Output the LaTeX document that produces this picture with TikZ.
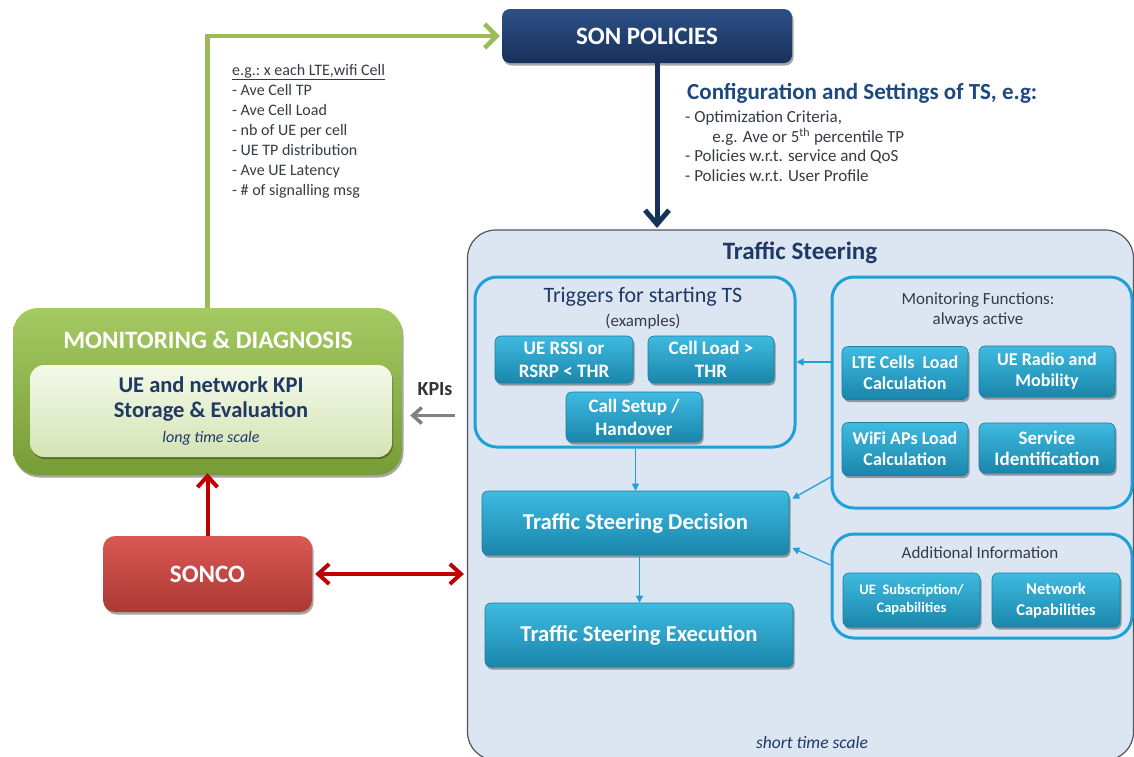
\documentclass[tikz,border=0pt]{standalone}
\usepackage{fontspec}
\setmainfont{Carlito}
\usetikzlibrary{arrows.meta,shadows,calc}

\definecolor{navytop}{HTML}{2D5086}
\definecolor{navybot}{HTML}{17325A}
\definecolor{navytext}{HTML}{1F3864}
\definecolor{cfgtitle}{HTML}{1F497D}
\definecolor{leaf}{HTML}{9BBB59}
\definecolor{leaftop}{HTML}{A6CA62}
\definecolor{leafbot}{HTML}{779C36}
\definecolor{minttop}{HTML}{F4F9EA}
\definecolor{mintbot}{HTML}{D4E4B4}
\definecolor{bricktop}{HTML}{DA5853}
\definecolor{brickbot}{HTML}{AC3834}
\definecolor{arrowred}{HTML}{C00000}
\definecolor{tealtop}{HTML}{3FBAE0}
\definecolor{tealbot}{HTML}{1A86AB}
\definecolor{tealedge}{HTML}{1B7DA0}
\definecolor{skyline}{HTML}{1FA0D8}
\definecolor{paleblue}{HTML}{DCE6F2}
\definecolor{frame}{HTML}{4F5560}
\definecolor{listgrey}{HTML}{353B45}
\definecolor{kpigrey}{HTML}{808080}

\tikzset{
  boxshadow/.style={drop shadow={shadow xshift=1.5pt, shadow yshift=-2.5pt, opacity=0.35, fill=black}},
  tealbox/.style={rounded corners=6pt, top color=tealtop, bottom color=tealbot,
    draw=tealedge, line width=0.6pt, boxshadow, text=white, align=center, inner sep=2pt,
    font=\bfseries\fontsize{18}{21}\selectfont},
  panel/.style={draw=skyline, line width=3pt, rounded corners=22pt, inner sep=0pt},
  plaintext/.style={inner sep=0pt, align=center},
  cyanarrow/.style={draw=skyline, line width=1.3pt, -{Triangle[length=7pt,width=7pt]}},
  greenarrow/.style={draw=leaf, line width=4.5pt, -{Straight Barb[length=12pt,width=24pt]}},
  navyarrow/.style={draw=navybot, line width=5pt, -{Straight Barb[length=14pt,width=24pt]}},
  redarrow/.style={draw=arrowred, line width=4pt, -{Straight Barb[length=11pt,width=20pt]}},
  redboth/.style={draw=arrowred, line width=4pt, {Straight Barb[length=11pt,width=20pt]}-{Straight Barb[length=11pt,width=20pt]}},
  greyarrow/.style={draw=kpigrey, line width=3.5pt, -{Straight Barb[length=9pt,width=16pt]}},
}

\begin{document}
\begin{tikzpicture}[x=1pt, y=-1pt]
\useasboundingbox (0,0) rectangle (1134,756);

% ---------- Traffic Steering frame ----------
\node[fill=paleblue, draw=frame, line width=1.2pt, rounded corners=28pt,
      minimum width=666pt, minimum height=530pt, inner sep=0pt] (ts) at (800.5,495) {};
\node[plaintext, font=\bfseries\fontsize{25}{28}\selectfont, text=navytext] (tstitle) at (800,253) {Traffic Steering};
\node[plaintext, font=\itshape\fontsize{17.5}{20}\selectfont, text=navytext] (shortts) at (812,742) {short time scale};

% ---------- Triggers panel ----------
\node[panel, minimum width=320pt, minimum height=170pt] (trig) at (635,362) {};
\node[plaintext, font=\fontsize{22}{25}\selectfont, text=navytext] (trigtitle) at (643,297) {Triggers for starting TS};
\node[plaintext, font=\fontsize{17}{20}\selectfont, text=listgrey] (trigex) at (643,322) {(examples)};
\node[tealbox, minimum width=138pt, minimum height=47pt, font=\bfseries\fontsize{19}{23}\selectfont] (rssi) at (564,359.5) {UE RSSI or\\RSRP < THR};
\node[tealbox, minimum width=126pt, minimum height=47pt, font=\bfseries\fontsize{19}{23}\selectfont] (load) at (711,359.5) {Cell Load >\\THR};
\node[tealbox, minimum width=136pt, minimum height=50pt, font=\bfseries\fontsize{19}{23}\selectfont] (call) at (634,417) {Call Setup /\\Handover};

% ---------- Monitoring functions panel ----------
\node[panel, minimum width=300pt, minimum height=231pt] (monf) at (982,392.5) {};
\node[plaintext, font=\fontsize{17}{20}\selectfont, text=listgrey] (monftitle) at (978,310) {Monitoring Functions:\\always active};
\node[tealbox, minimum width=126pt, minimum height=53pt] (lte) at (905,373) {LTE Cells\ \ Load\\Calculation};
\node[tealbox, minimum width=136pt, minimum height=51pt] (radio) at (1047,371.5) {UE Radio and\\Mobility};
\node[tealbox, minimum width=126pt, minimum height=53pt] (wifi) at (905,449) {WiFi APs Load\\Calculation};
\node[tealbox, minimum width=136pt, minimum height=50pt, font=\bfseries\fontsize{19}{21}\selectfont] (serv) at (1047,448) {Service\\Identification};

% ---------- Additional information panel ----------
\node[panel, minimum width=300pt, minimum height=104pt] (addi) at (982,586) {};
\node[plaintext, font=\fontsize{17}{20}\selectfont, text=listgrey] (additle) at (980,553) {Additional Information};
\node[tealbox, minimum width=137pt, minimum height=54pt, font=\bfseries\fontsize{14.5}{18}\selectfont] (subs) at (911.5,600) {UE\ \ Subscription/\\Capabilities};
\node[tealbox, minimum width=128pt, minimum height=54pt, font=\bfseries\fontsize{16.5}{21}\selectfont] (netc) at (1056,600) {Network\\Capabilities};

% ---------- Decision and execution ----------
\node[tealbox, minimum width=307pt, minimum height=64pt, font=\bfseries\fontsize{22.7}{26}\selectfont] (dec) at (635.5,523) {Traffic Steering Decision};
\node[tealbox, minimum width=308pt, minimum height=64pt, font=\bfseries\fontsize{22.7}{26}\selectfont] (exe) at (639,635) {Traffic Steering Execution};

% ---------- SON policies ----------
\node[rounded corners=8pt, top color=navytop, bottom color=navybot, boxshadow,
      minimum width=290pt, minimum height=54pt, text=white,
      font=\bfseries\fontsize{25}{28}\selectfont] (son) at (647,36) {SON POLICIES};

% ---------- Monitoring & diagnosis ----------
\node[rounded corners=25pt, top color=leaftop, bottom color=leafbot, boxshadow,
      minimum width=389pt, minimum height=167pt] (md) at (207.5,391.5) {};
\node[plaintext, text=white, font=\bfseries\fontsize{25}{28}\selectfont] (mdtitle) at (208,340) {MONITORING \& DIAGNOSIS};
\node[rounded corners=14pt, top color=minttop, bottom color=mintbot,
      drop shadow={shadow xshift=1pt, shadow yshift=-2pt, opacity=0.3, fill=black},
      minimum width=362pt, minimum height=92pt, align=center, text=navytext,
      font=\bfseries\fontsize{22.5}{25}\selectfont] (kpistore) at (211,411)
      {UE and network KPI\\Storage \& Evaluation\\{\mdseries\itshape\fontsize{16}{18}\selectfont long time scale}};

% ---------- SONCO ----------
\node[rounded corners=12pt, top color=bricktop, bottom color=brickbot, boxshadow,
      minimum width=209pt, minimum height=76pt, text=white,
      font=\bfseries\fontsize{25}{28}\selectfont] (sonco) at (207.5,574) {SONCO};

% ---------- Texts beside the arrows ----------
\node[anchor=north west, inner sep=0pt, align=left, text=listgrey,
      font=\fontsize{16}{20}\selectfont] (kpilist) at (232,64)
  {\underline{e.g.:\ x each LTE,wifi Cell}\\- Ave Cell TP\\- Ave Cell Load\\- nb of UE per cell\\- UE TP distribution\\- Ave UE Latency\\- \# of signalling\ msg};
\node[anchor=west, inner sep=0pt, text=cfgtitle, font=\bfseries\fontsize{23}{26}\selectfont] (cfgtitle) at (687,93)
  {Configuration and Settings of TS, e.g:};
\node[anchor=north west, inner sep=0pt, align=left, text=listgrey,
      font=\fontsize{17}{19.5}\selectfont] (cfglist) at (685,111)
  {- Optimization Criteria,\\\hspace*{1.6em}e.g. Ave or 5\textsuperscript{th} percentile TP\\- Policies w.r.t. service and QoS\\- Policies w.r.t. User Profile};
\node[plaintext, text=black!80, font=\bfseries\fontsize{20}{23}\selectfont] (kpis) at (435,389) {KPIs};

% ---------- Connectors ----------
\coordinate (tsin) at (657,228);
\draw[greenarrow] (md.north) |- ([xshift=-2pt]son.west);
\draw[navyarrow] (son.south -| tsin) -- (tsin);
\draw[redarrow] (sonco.north) -- ([yshift=2pt]md.south);
\draw[redboth] ([xshift=3pt]sonco.east) -- ([xshift=-3pt]sonco.east -| ts.west);
\draw[greyarrow] ($(md.east -| ts.west)+(-12,24)$) -- ($(md.east)+(8,24)$);

\draw[cyanarrow] (monf.west |- trig.east) -- (trig.east);
\draw[cyanarrow] (trig.south -| dec.north) -- (dec.north);
\draw[cyanarrow] ($(monf.south west)+(1,-33)$) -- ($(dec.north east)+(3,8)$);
\draw[cyanarrow] ($(addi.west)+(0,-21)$) -- ($(dec.east)+(3,25)$);
\draw[cyanarrow] ([xshift=4pt]dec.south) -- ([xshift=4pt]dec.south |- exe.north);
\end{tikzpicture}
\end{document}
